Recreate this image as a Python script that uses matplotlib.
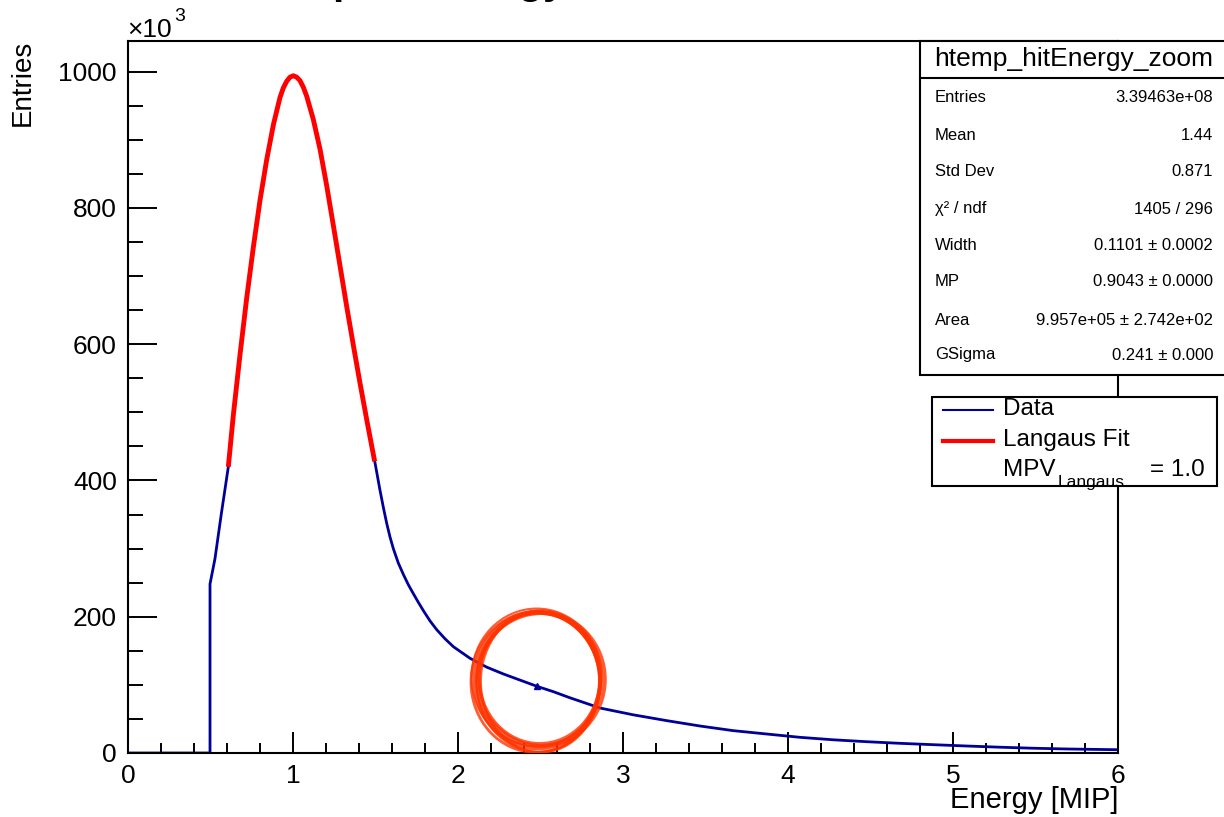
import matplotlib
matplotlib.use("Agg")
import matplotlib.pyplot as plt
from matplotlib.patches import Rectangle, Ellipse
from matplotlib.lines import Line2D
from matplotlib.ticker import MultipleLocator

plt.rcParams['font.family'] = ['Liberation Sans', 'DejaVu Sans']

# histogram (energy in MIP, entries in units of 10^3)
energy = [0.0, 0.497, 0.497, 0.527, 0.565, 0.608, 0.638, 0.679, 0.719, 0.760,
          0.800, 0.840, 0.881, 0.921, 0.941, 0.962, 0.982, 1.002, 1.022, 1.042,
          1.063, 1.083, 1.123, 1.164, 1.204, 1.244, 1.285, 1.325, 1.366, 1.406,
          1.447, 1.487, 1.497, 1.527, 1.548, 1.568, 1.588, 1.608, 1.638, 1.669,
          1.699, 1.729, 1.760, 1.790, 1.830, 1.871, 1.920, 1.972, 2.073,
          2.174, 2.275, 2.376, 2.477, 2.578, 2.679, 2.861, 3.063, 3.265, 3.467,
          3.668, 3.870, 4.073, 4.273, 4.475, 4.679, 4.880, 5.080, 5.285, 5.487,
          5.689, 6.0]
entries = [0, 0, 248, 285, 350, 420, 495, 585, 667, 743,
           811, 870, 922, 962, 976, 986, 992, 994, 992, 987,
           977, 964, 930, 886, 833, 775, 715, 656, 598, 543,
           489, 438, 426, 386, 360, 337, 317, 300, 279, 262,
           247, 234, 221, 209, 194, 181, 168, 156, 139,
           126, 116, 107, 98, 90, 81, 66, 56, 47.5, 39.6,
           32.8, 27.9, 23, 19.4, 16.6, 14.2, 12.2, 10.3, 8.5, 7.0,
           5.9, 4.8]

# Langaus fit curve (red)
fit_energy = [0.608, 0.638, 0.679, 0.719, 0.760, 0.800, 0.840, 0.881, 0.921,
              0.941, 0.962, 0.982, 1.002, 1.022, 1.042, 1.063, 1.083, 1.123,
              1.164, 1.204, 1.244, 1.285, 1.325, 1.366, 1.406, 1.447, 1.487,
              1.495]
fit_entries = [420, 495, 585, 667, 743, 811, 870, 922, 962,
               976, 986, 992, 994, 992, 987, 977, 964, 930,
               886, 833, 775, 715, 656, 598, 543, 489, 438,
               428]

stat_names = ["Entries", "Mean", "Std Dev", "χ² / ndf", "Width", "MP", "Area", "GSigma"]
stat_values = ["3.39463e+08", "1.44", "0.871", "1405 / 296", "0.1101 ± 0.0002",
               "0.9043 ± 0.0000", "9.957e+05 ± 2.742e+02", "0.241 ± 0.000"]
hist_name = "htemp_hitEnergy_zoom"
title = "htemp_hitEnergy_zoom_all_channels"

W, H = 1224, 817


def fx(px):
    return px / W


def fy(py):
    return 1 - py / H


fig = plt.figure(figsize=(12.24, 8.17), dpi=100)
ax = fig.add_axes([fx(128), fy(753), 990 / W, 712 / H])

ax.plot(energy, entries, color='#000099', lw=2, zorder=2)
ax.plot(fit_energy, fit_entries, color='red', lw=3.5, solid_capstyle='butt',
        solid_joinstyle='round', zorder=3)
ax.plot([2.48], [98], marker='^', ms=5, color='#000099', zorder=3)

# hand drawn circle around the tail
for dx, dy, dw, dh, lw in [(0, 0, 0, 0, 3), (0.014, 3, -0.025, -7, 2.5),
                           (-0.012, -3, 0.02, 6, 2), (0.022, 1, 0.012, -5, 3),
                           (0.006, -4, -0.012, 3, 1.5), (-0.004, 4, 0.03, 2, 1.5),
                           (0.018, -2, -0.035, 8, 2)]:
    ax.add_patch(Ellipse((2.481 + dx, 107 + dy), 0.76 + dw, 200 + dh,
                         fill=False, ec='#ff3300', lw=lw, alpha=0.8, zorder=4))

ax.set_xlim(0, 6)
ax.set_ylim(0, 1045)
ax.xaxis.set_major_locator(MultipleLocator(1))
ax.xaxis.set_minor_locator(MultipleLocator(0.2))
ax.yaxis.set_major_locator(MultipleLocator(200))
ax.yaxis.set_minor_locator(MultipleLocator(50))
ax.tick_params(which='both', direction='in', top=False, right=False, width=1.4, labelsize=19)
ax.tick_params(axis='x', which='major', length=15, pad=8)
ax.tick_params(axis='x', which='minor', length=7)
ax.tick_params(axis='y', which='major', length=21, pad=8)
ax.tick_params(axis='y', which='minor', length=11)
for s in ax.spines.values():
    s.set_linewidth(1.5)

# axis titles and exponent
fig.text(fx(23), fy(40), "Entries", rotation=90, ha='center', va='top', fontsize=20)
fig.text(fx(1118), fy(800), "Energy [MIP]", ha='right', va='center', fontsize=21)
fig.text(fx(127), fy(37), "×10", ha='left', va='baseline', fontsize=19)
fig.text(fx(174), fy(21), "3", ha='left', va='baseline', fontsize=14)

# title, mostly cut off by the top edge
fig.text(fx(237), fy(-6), title, ha='left', va='baseline', fontsize=29, fontweight='bold')

# stats box
fig.add_artist(Rectangle((fx(920), fy(375)), fx(1240) - fx(920), (375 - 41) / H,
                         transform=fig.transFigure, fc='white', ec='black', lw=1.5,
                         clip_on=False, zorder=5))
fig.add_artist(Line2D([fx(920), fx(1240)], [fy(78), fy(78)], color='black', lw=1.5, zorder=6))
fig.text(fx(934), fy(59), hist_name, ha='left', va='center', fontsize=19, zorder=7)
row_y = [98, 135, 172, 209, 245, 282, 320, 355]
for name, val, y in zip(stat_names, stat_values, row_y):
    fig.text(fx(935), fy(y), name, ha='left', va='center', fontsize=12, zorder=7)
    fig.text(fx(1213), fy(y), val, ha='right', va='center', fontsize=12, zorder=7)

# legend
fig.add_artist(Rectangle((fx(932), fy(486)), (1217 - 932) / W, (486 - 397) / H,
                         transform=fig.transFigure, fc='white', ec='black', lw=1.5,
                         zorder=5))
fig.add_artist(Line2D([fx(943), fx(993)], [fy(410), fy(410)], color='#000099', lw=1.5, zorder=6))
fig.add_artist(Line2D([fx(943), fx(993)], [fy(441), fy(441)], color='red', lw=3, zorder=6))
fig.text(fx(1003), fy(409), "Data", ha='left', va='center', fontsize=17.5, zorder=7)
fig.text(fx(1003), fy(440), "Langaus Fit", ha='left', va='center', fontsize=17.5, zorder=7)
fig.text(fx(1003), fy(470), "MPV", ha='left', va='center', fontsize=17.5, zorder=7)
fig.text(fx(1058), fy(483), "Langaus", ha='left', va='center', fontsize=12.5, zorder=7)
fig.text(fx(1205), fy(470), "= 1.0", ha='right', va='center', fontsize=17.5, zorder=7)

fig.savefig("out.png", dpi=100)
